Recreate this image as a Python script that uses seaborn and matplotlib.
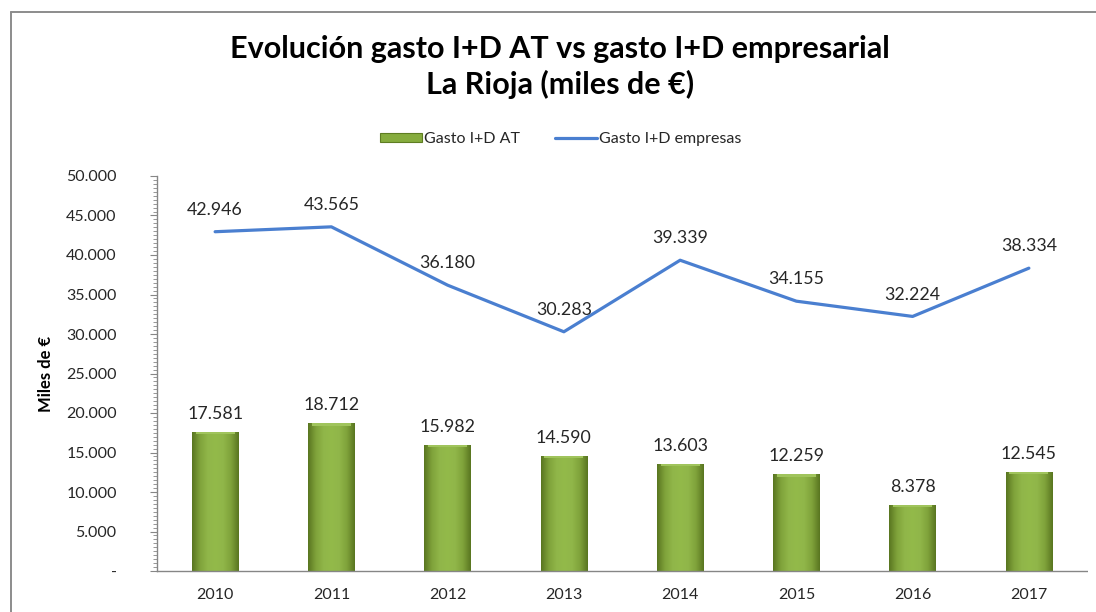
import numpy as np
import pandas as pd
import matplotlib
matplotlib.use("Agg")
import matplotlib.pyplot as plt
import matplotlib.patches as mpatches
from matplotlib.lines import Line2D
from matplotlib.ticker import MultipleLocator, FuncFormatter
from matplotlib.colors import LinearSegmentedColormap
import seaborn as sns

years = ["2010", "2011", "2012", "2013", "2014", "2015", "2016", "2017"]
gasto_at = [17581, 18712, 15982, 14590, 13603, 12259, 8378, 12545]
gasto_empresas = [42946, 43565, 36180, 30283, 39339, 34155, 32224, 38334]
yticks = [0, 5000, 10000, 15000, 20000, 25000, 30000, 35000, 40000, 45000, 50000]

title_text = "Evolución gasto I+D AT vs gasto I+D empresarial\nLa Rioja (miles de €)"
ylabel_text = "Miles de €"
label_at = "Gasto I+D AT"
label_emp = "Gasto I+D empresas"

sns.set_theme(style="white")
plt.rcParams["font.family"] = ["Lato", "DejaVu Sans"]

def fmt(v):
    return f"{int(round(v)):,}".replace(",", ".")

df = pd.DataFrame({"year": years, "at": gasto_at, "emp": gasto_empresas})

fig = plt.figure(figsize=(10.96, 6.12), dpi=100, facecolor="white", edgecolor="white", linewidth=0)
ax = fig.add_axes([157/1096, 41/612, 930/1096, 395/612])

sns.barplot(data=df, x="year", y="at", order=years, color="#8db348",
            width=0.40, ax=ax, saturation=1, linewidth=0)
sns.pointplot(data=df, x="year", y="emp", order=years, color="#4a7fd0",
              markers="", linestyles="-", ax=ax, linewidth=2.3, errorbar=None)

# gradient fill for bars
cmap = LinearSegmentedColormap.from_list(
    "g", ["#587520", "#7fa23a", "#90b649", "#93ba4a", "#90b649", "#7fa23a", "#587520"])
grad = np.linspace(0, 1, 256).reshape(1, -1)
for p in list(ax.patches):
    x0, y0 = p.get_x(), p.get_y()
    w, h = p.get_width(), p.get_height()
    im = ax.imshow(grad, extent=[x0, x0 + w, y0, y0 + h], aspect="auto",
                   cmap=cmap, zorder=p.get_zorder() + 0.1, origin="lower")
    im.set_clip_path(p)
    ax.add_patch(mpatches.Rectangle((x0 + w*0.08, y0 + h - 300), w*0.84, 300,
                                    facecolor="#a0c45c", edgecolor="none",
                                    zorder=p.get_zorder() + 0.2))

ax.set_xlim(-0.5, len(years) - 0.5)
ax.set_ylim(0, 50000)
ax.set_yticks(yticks)
ax.yaxis.set_minor_locator(MultipleLocator(500))
ax.yaxis.set_major_formatter(FuncFormatter(lambda v, _: "-" if v == 0 else fmt(v)))
ax.tick_params(axis="y", which="major", left=True, length=5, width=0.8,
               color="#868686", labelsize=11.5, labelcolor="#262626", pad=24)
ax.tick_params(axis="y", which="minor", left=True, length=3, width=0.6, color="#868686")
ax.tick_params(axis="x", bottom=False, labelsize=11.5, labelcolor="#262626", pad=6)

for s in ["top", "right"]:
    ax.spines[s].set_visible(False)
for s in ["left", "bottom"]:
    ax.spines[s].set_color("#868686")
    ax.spines[s].set_linewidth(1.0)

ax.set_xlabel("")
ax.set_ylabel(ylabel_text, fontsize=12, fontweight="bold", color="black")
ax.yaxis.set_label_coords(-103/930, 0.5)

for i, v in enumerate(gasto_at):
    ax.annotate(fmt(v), (i, v), xytext=(0, 7), textcoords="offset points",
                ha="center", va="bottom", fontsize=12.8, color="#262626")
for i, v in enumerate(gasto_empresas):
    ax.annotate(fmt(v), (i, v), xytext=(0, 10), textcoords="offset points",
                ha="center", va="bottom", fontsize=12.8, color="#262626")

fig.text(560/1096, 1 - 67/612, title_text, ha="center", va="center",
         fontsize=22, fontweight="bold", color="black", linespacing=1.3)

handles = [mpatches.Patch(facecolor="#86ac3e", edgecolor="#5e7d22", linewidth=0.8),
           Line2D([0], [0], color="#4a7fd0", linewidth=2.3)]
fig.legend(handles, [label_at, label_emp], loc="center",
           bbox_to_anchor=(561/1096, 1 - 139/612), ncol=2, frameon=False,
           fontsize=11.5, handlelength=2.6, handleheight=0.5, handletextpad=0.15,
           columnspacing=2.2)

# white mask on the right margin (beyond the plot area)
fig.add_artist(mpatches.Rectangle((1088/1096, 0), 0.05, 1, transform=fig.transFigure,
                                  facecolor="white", edgecolor="none", zorder=50))

# outer chart frame: only top and left edges are visible in the crop
fx = 11/1096
fy = 1 - 12/612
fig.add_artist(Line2D([fx, fx], [0, fy], transform=fig.transFigure,
                      color="#8c8c8c", linewidth=1.4, zorder=60))
fig.add_artist(Line2D([fx, 1.01], [fy, fy], transform=fig.transFigure,
                      color="#8c8c8c", linewidth=1.4, zorder=60))

fig.savefig("out.png", dpi=100, facecolor="white")
